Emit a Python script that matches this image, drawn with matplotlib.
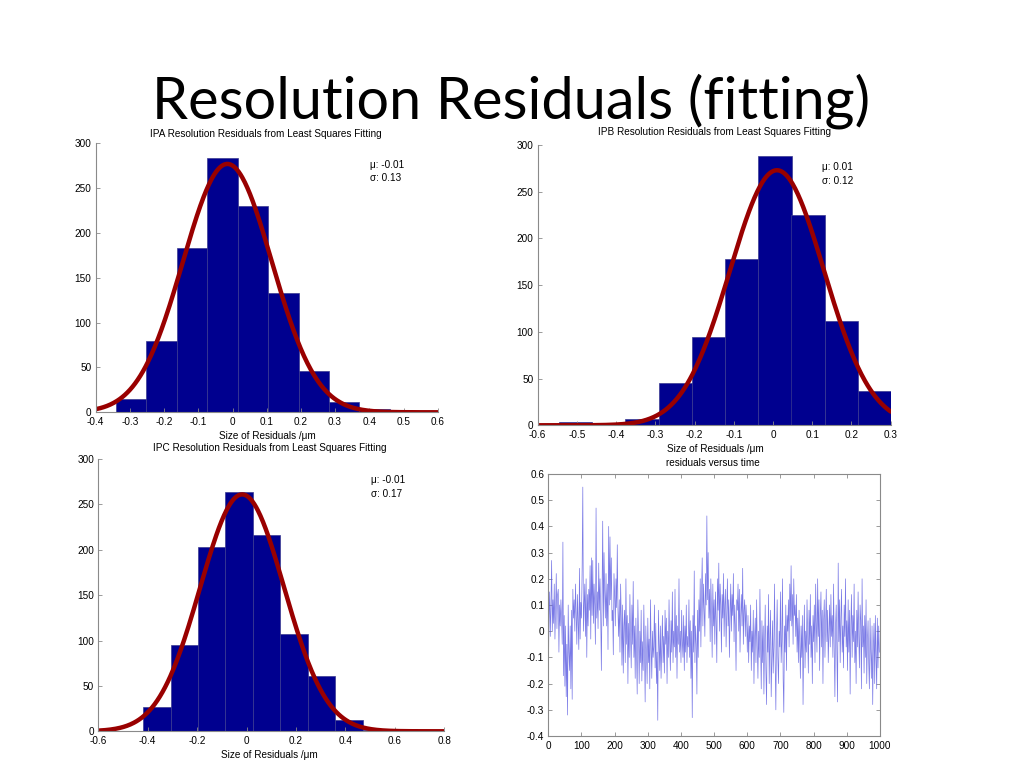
import numpy as np
import matplotlib
matplotlib.use('Agg')
import matplotlib.pyplot as plt

plt.rcParams['font.family'] = ['Liberation Sans', 'DejaVu Sans']
plt.rcParams['axes.unicode_minus'] = False

# ---------------- histogram data
ipa_centers = [-0.296, -0.207, -0.118, -0.029, 0.060, 0.149, 0.238, 0.326, 0.415, 0.504]
ipa_counts = [15, 80, 183, 284, 230, 133, 46, 11, 4, 2]
ipa_fit = dict(mu=-0.015, sigma=0.13, peak=277)

ipb_centers = [-0.503, -0.418, -0.334, -0.249, -0.165, -0.080, 0.005, 0.089, 0.174, 0.258]
ipb_counts = [4, 1, 7, 45, 95, 178, 288, 225, 112, 37]
ipb_fit = dict(mu=0.01, sigma=0.12, peak=273)

ipc_centers = [-0.363, -0.252, -0.141, -0.030, 0.081, 0.192, 0.303, 0.414, 0.525, 0.636]
ipc_counts = [27, 95, 203, 264, 216, 107, 61, 13, 1, 3]
ipc_fit = dict(mu=-0.018, sigma=0.17, peak=261)

# ---------------- residuals versus time (every 2nd sample)
time_step = 2
residuals = [
    -0.20, 0.05, 0.15, -0.02, 0.10, 0.27, 0.00, 0.12, 0.03, 0.18, -0.03, 0.08, 0.22, 0.01, 0.14, 0.16, -0.08, 0.10, 0.02, 0.12, 0.05, -0.05, 0.34, -0.17, 0.06,
    -0.21, 0.02, -0.25, -0.05, -0.32, 0.10, -0.08, -0.15, 0.02, -0.22, 0.08, -0.26, 0.16, 0.05, 0.12, 0.00, 0.18, 0.07, -0.05, 0.14, 0.03, -0.07, 0.24, -0.03, 0.11,
    0.05, 0.24, 0.55, 0.00, 0.10, 0.18, -0.02, 0.20, -0.10, 0.14, 0.02, 0.16, 0.08, 0.25, -0.03, 0.28, 0.06, 0.27, 0.03, 0.18, 0.10, -0.05, 0.47, 0.05, 0.15,
    0.01, 0.26, 0.08, 0.20, 0.06, -0.15, 0.12, 0.42, 0.02, 0.30, 0.15, 0.05, 0.22, 0.02, 0.18, -0.07, 0.40, 0.10, 0.36, 0.12, 0.28, 0.04, 0.08, -0.09, 0.22,
    0.14, 0.02, 0.20, 0.09, 0.33, 0.08, -0.02, 0.12, -0.08, 0.18, 0.05, -0.13, 0.10, -0.16, 0.02, 0.08, -0.12, 0.20, -0.05, 0.06, -0.20, 0.03, -0.10, 0.14, -0.02,
    -0.14, 0.10, -0.05, 0.19, -0.10, 0.02, -0.18, 0.05, -0.08, -0.24, 0.12, -0.02, -0.20, 0.00, -0.12, 0.08, -0.19, -0.04, -0.15, 0.10, -0.07, -0.27, 0.02, -0.10, -0.20,
    0.05, -0.12, -0.03, -0.22, 0.12, -0.06, -0.18, 0.00, -0.10, -0.06, 0.10, -0.14, 0.03, -0.20, -0.08, -0.34, 0.08, -0.05, -0.15, 0.02, -0.18, -0.06, 0.06, -0.12, -0.02,
    -0.16, 0.08, -0.05, 0.05, -0.20, 0.00, -0.10, 0.12, -0.04, -0.15, 0.04, -0.08, 0.15, -0.12, 0.00, -0.06, 0.16, -0.10, 0.06, -0.18, 0.02, -0.05, 0.20, -0.08, 0.00,
    -0.12, 0.08, -0.04, -0.10, 0.06, -0.15, 0.02, -0.08, 0.10, -0.12, -0.02, -0.06, 0.12, -0.10, 0.04, -0.18, 0.00, -0.33, 0.06, -0.08, 0.23, -0.12, 0.02, -0.05, -0.24,
    0.08, -0.10, 0.12, 0.00, 0.20, -0.06, 0.15, 0.28, 0.02, 0.18, 0.08, -0.02, 0.22, 0.10, 0.44, 0.12, 0.30, 0.05, 0.16, -0.04, 0.20, 0.08, -0.10, 0.18, 0.02,
    0.12, -0.05, 0.15, 0.04, -0.12, 0.20, 0.08, 0.26, 0.00, 0.18, 0.10, -0.08, 0.14, 0.05, 0.22, -0.02, 0.10, 0.16, -0.06, 0.08, 0.20, 0.02, 0.12, -0.10, 0.06,
    0.18, 0.00, 0.14, 0.06, 0.22, -0.04, 0.10, 0.02, -0.15, 0.12, 0.08, 0.18, 0.00, 0.16, -0.08, 0.06, 0.14, 0.02, 0.24, -0.05, 0.08, 0.12, -0.02, 0.10, 0.04,
    -0.08, 0.06, -0.12, 0.02, -0.04, 0.10, -0.15, 0.00, -0.08, 0.08, -0.20, -0.02, 0.05, -0.12, 0.12, -0.06, -0.18, 0.00, -0.10, 0.16, -0.05, -0.22, 0.04, -0.12, 0.02,
    -0.24, -0.05, 0.10, -0.15, -0.28, 0.02, -0.08, 0.14, -0.20, -0.03, 0.08, -0.25, -0.10, 0.04, -0.16, -0.06, 0.18, -0.12, -0.30, -0.02, 0.12, -0.10, -0.20, 0.00, -0.06,
    0.15, -0.12, -0.04, 0.20, -0.18, -0.31, 0.02, -0.08, 0.10, -0.15, 0.06, 0.00, 0.12, -0.06, 0.18, 0.04, 0.25, 0.02, 0.14, -0.05, 0.20, 0.06, 0.10, -0.02, 0.14,
    -0.08, 0.05, -0.12, 0.08, -0.04, -0.18, 0.02, -0.10, 0.06, -0.28, -0.06, 0.10, -0.14, 0.00, -0.08, 0.12, -0.02, -0.16, 0.08, -0.05, 0.14, -0.10, 0.02, -0.20, 0.06,
    -0.04, 0.10, -0.12, 0.18, 0.02, -0.08, 0.20, -0.02, 0.12, -0.15, 0.06, 0.15, -0.06, 0.08, -0.20, 0.04, 0.12, -0.10, 0.02, 0.16, -0.04, 0.08, -0.12, 0.00, 0.10,
    -0.06, 0.14, -0.02, 0.06, -0.10, 0.18, -0.06, -0.25, 0.02, 0.10, -0.08, -0.27, 0.26, -0.04, 0.12, -0.12, 0.05, 0.16, -0.08, 0.02, -0.14, 0.10, -0.02, 0.20, -0.06,
    0.04, -0.15, 0.12, -0.08, 0.08, -0.24, 0.02, 0.14, -0.10, 0.06, -0.04, 0.18, -0.12, 0.00, -0.20, 0.08, -0.06, 0.15, -0.02, -0.14, 0.10, 0.04, -0.22, 0.20, -0.06,
    0.02, -0.16, 0.06, -0.10, 0.12, -0.20, -0.04, 0.04, -0.12, -0.22, 0.05, -0.08, -0.18, 0.02, -0.28, -0.06, 0.03, -0.20, 0.06, -0.10, -0.22, 0.05, -0.14, 0.02, -0.08,
]

BAR_COLOR = '#00008f'
FIT_COLOR = '#990000'
AXIS_COLOR = '#8a8a8a'
FS = 7.2

W, H = 1024, 768
fig = plt.figure(figsize=(W / 100, H / 100), dpi=100)


def px_axes(left, top, right, bottom):
    # axes placed by pixel box of the picture
    return fig.add_axes([left / W, 1 - bottom / H, (right - left) / W, (bottom - top) / H])


def hist_panel(ax, centers, counts, fit, xlim, xticks):
    width = centers[1] - centers[0]
    ax.bar(centers, counts, width=width, color=BAR_COLOR, edgecolor='#3a3a90', linewidth=0.5)
    xs = np.linspace(xlim[0], xlim[1], 400)
    ax.plot(xs, fit['peak'] * np.exp(-0.5 * ((xs - fit['mu']) / fit['sigma']) ** 2),
            color=FIT_COLOR, lw=3.2, solid_capstyle='round')
    ax.set_xlim(xlim)
    ax.set_ylim(0, 300)
    ax.set_xticks(xticks)
    ax.set_xticklabels(['%g' % t for t in xticks])
    ax.set_yticks([0, 50, 100, 150, 200, 250, 300])
    for s in ['top', 'right']:
        ax.spines[s].set_visible(False)
    for s in ['left', 'bottom']:
        ax.spines[s].set_color(AXIS_COLOR)
        ax.spines[s].set_linewidth(0.8)
    ax.tick_params(direction='in', length=3, width=0.6, color=AXIS_COLOR, labelsize=FS)
    ax.tick_params(axis='x', pad=3.5)
    ax.tick_params(axis='y', pad=3)


axA = px_axes(95.7, 143.3, 437.7, 412.3)
hist_panel(axA, ipa_centers, ipa_counts, ipa_fit, (-0.4, 0.6), [-0.4, -0.3, -0.2, -0.1, 0, 0.1, 0.2, 0.3, 0.4, 0.5, 0.6])

axB = px_axes(537.7, 145, 890.7, 425.3)
hist_panel(axB, ipb_centers, ipb_counts, ipb_fit, (-0.6, 0.3), [-0.6, -0.5, -0.4, -0.3, -0.2, -0.1, 0, 0.1, 0.2, 0.3])

axC = px_axes(98.3, 459, 444.3, 731.3)
hist_panel(axC, ipc_centers, ipc_counts, ipc_fit, (-0.6, 0.8), [-0.6, -0.4, -0.2, 0, 0.2, 0.4, 0.6, 0.8])

# residuals versus time
axD = px_axes(548.3, 474, 880, 736)
t = np.arange(len(residuals)) * time_step
axD.plot(t, residuals, color='#5858e0', lw=0.5, alpha=0.8)
axD.set_xlim(0, 1000)
axD.set_ylim(-0.4, 0.6)
axD.set_xticks(range(0, 1001, 100))
yt = [-0.4, -0.3, -0.2, -0.1, 0, 0.1, 0.2, 0.3, 0.4, 0.5, 0.6]
axD.set_yticks(yt)
axD.set_yticklabels(['%g' % v for v in yt])
for s in axD.spines.values():
    s.set_color(AXIS_COLOR)
    s.set_linewidth(0.8)
axD.tick_params(direction='in', length=3, width=0.6, color=AXIS_COLOR, labelsize=FS,
                top=True, right=True)
axD.tick_params(axis='x', pad=3.5)
axD.tick_params(axis='y', pad=3)


def ftext(x, y, s, **kw):
    fig.text(x / W, 1 - y / H, s, fontsize=FS, va='center', **kw)


ftext(266, 134, 'IPA Resolution Residuals from Least Squares Fitting', ha='center')
ftext(714, 132, 'IPB Resolution Residuals from Least Squares Fitting', ha='center')
ftext(270, 448, 'IPC Resolution Residuals from Least Squares Fitting', ha='center')
ftext(713, 463, 'residuals versus time', ha='center')

ftext(267, 436, 'Size of Residuals /\u03bcm', ha='center')
ftext(715, 449, 'Size of Residuals /\u03bcm', ha='center')
ftext(269, 755, 'Size of Residuals /\u03bcm', ha='center')

ftext(370, 165, '\u03bc: %.2f' % -0.01, ha='left')
ftext(370, 178, '\u03c3: %.2f' % 0.13, ha='left')
ftext(822, 167, '\u03bc: %.2f' % 0.01, ha='left')
ftext(822, 181, '\u03c3: %.2f' % 0.12, ha='left')
ftext(371, 480, '\u03bc: %.2f' % -0.01, ha='left')
ftext(371, 494, '\u03c3: %.2f' % 0.17, ha='left')

fig.text(511 / W, 1 - 101 / H, 'Resolution Residuals (fitting)', fontsize=41.5,
         family=['Lato', 'DejaVu Sans'], ha='center', va='center')

fig.savefig('out.png', dpi=100)
